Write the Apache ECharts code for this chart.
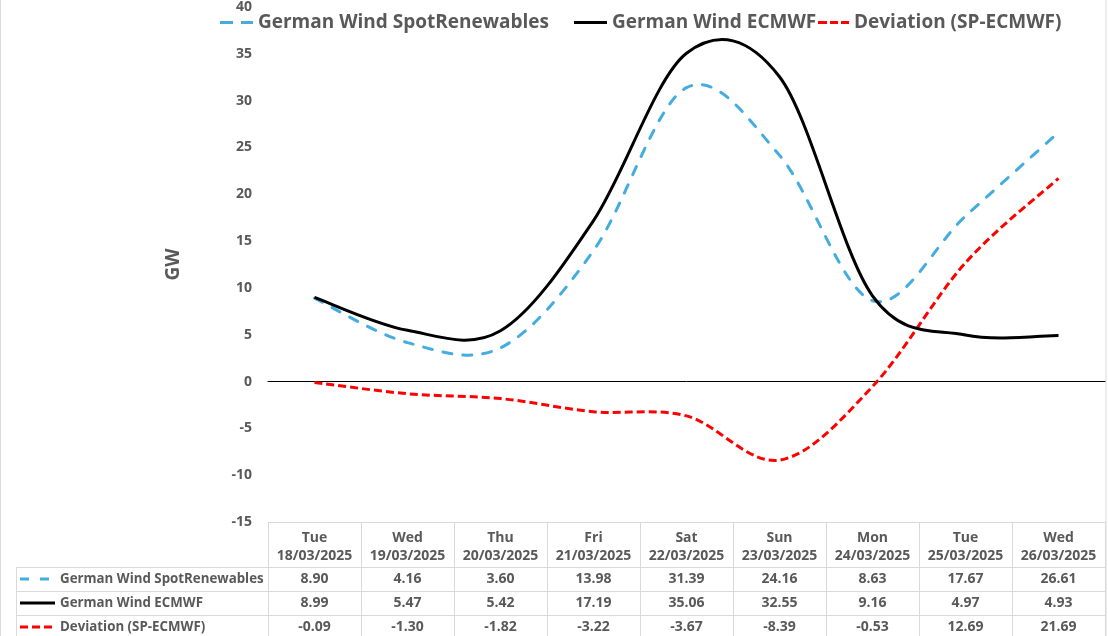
<!DOCTYPE html>
<html>
<head>
<meta charset="utf-8">
<script src="https://cdn.jsdelivr.net/npm/echarts@6/dist/echarts.min.js"></script>
<style>
html,body{margin:0;padding:0;background:#fff;}
#c{width:1108px;height:636px;}
</style>
</head>
<body>
<div id="c"></div>
<script>
// ---- data ----
const days = ['Tue','Wed','Thu','Fri','Sat','Sun','Mon','Tue','Wed'];
const dates = ['18/03/2025','19/03/2025','20/03/2025','21/03/2025','22/03/2025','23/03/2025','24/03/2025','25/03/2025','26/03/2025'];
const seriesNames = ['German Wind SpotRenewables','German Wind ECMWF','Deviation (SP-ECMWF)'];
const spotRenewables = [8.90,4.16,3.60,13.98,31.39,24.16,8.63,17.67,26.61];
const ecmwf = [8.99,5.47,5.42,17.19,35.06,32.55,9.16,4.97,4.93];
const deviation = [-0.09,-1.30,-1.82,-3.22,-3.67,-8.39,-0.53,12.69,21.69];
const yMin = -15, yMax = 40, yStep = 5;

const categories = days.map((d,i) => d + '\n' + dates[i]);
const seriesValues = [spotRenewables, ecmwf, deviation];
const lineStyles = [
  {color:'#45ACE0', width:3, dash:[9,11], cap:'round'},
  {color:'#000000', width:3, dash:null, cap:'butt'},
  {color:'#FF0000', width:3, dash:[8,4], cap:'butt'}
];
const legendIcons = [
  'path://M0,0h13v3h-13zM21,0h12v3h-12z',
  'path://M0,0h33v3h-33z',
  'path://M0,0h9v3h-9zM12,0h8v3h-8zM23,0h8v3h-8z'
];
const TXT = '#595959';
const FONT = 'Open Sans';
const BORDER = '#D9D9D9';

// Excel-style smoothed line (Catmull-Rom Bezier) through pixel points from the axes
function smoothPath(pts){
  let d = 'M' + pts[0][0] + ',' + pts[0][1];
  for (let i = 0; i < pts.length - 1; i++){
    const p0 = pts[i-1] || pts[i], p1 = pts[i], p2 = pts[i+1], p3 = pts[i+2] || pts[i+1];
    const c1x = p1[0] + (p2[0]-p0[0])/6, c1y = p1[1] + (p2[1]-p0[1])/6;
    const c2x = p2[0] - (p3[0]-p1[0])/6, c2y = p2[1] - (p3[1]-p1[1])/6;
    d += 'C' + c1x + ',' + c1y + ',' + c2x + ',' + c2y + ',' + p2[0] + ',' + p2[1];
  }
  return d;
}

const chart = echarts.init(document.getElementById('c'));

const legendLefts = [220, 574, 818];
const option = {
  backgroundColor:'#fff',
  animation:false,
  grid:{left:268, right:3, top:4, bottom:114},
  legend: seriesNames.map((n,i)=>({
    data:[n], left:legendLefts[i], top:13, padding:0,
    icon: legendIcons[i], itemWidth: i===2?31:33, itemHeight:3,
    textStyle:{color:TXT, fontFamily:FONT, fontWeight:'bold', fontSize:19}
  })),
  xAxis:[
    {type:'category', data:categories, boundaryGap:true,
     axisLine:{show:true, onZero:true, lineStyle:{color:'#000', width:1}},
     axisTick:{show:false}, axisLabel:{show:false}, splitLine:{show:false}},
    {type:'category', data:categories, boundaryGap:true, position:'bottom',
     axisLine:{show:false}, axisTick:{show:false},
     axisLabel:{show:true, margin:7, color:TXT, fontFamily:FONT, fontWeight:'bold', fontSize:14, lineHeight:18, interval:0},
     splitLine:{show:false}}
  ],
  yAxis:{type:'value', min:yMin, max:yMax, interval:yStep,
    name:'GW', nameLocation:'middle', nameGap:85, nameRotate:90,
    nameTextStyle:{color:TXT, fontFamily:FONT, fontWeight:'bold', fontSize:19},
    axisLine:{show:false}, axisTick:{show:false}, splitLine:{show:false},
    axisLabel:{margin:16, color:TXT, fontFamily:FONT, fontWeight:'bold', fontSize:14}},
  series: seriesNames.map((n,k)=>({
    name:n, type:'custom', xAxisIndex:0, yAxisIndex:0,
    data: seriesValues[k].map((v,i)=>[i, v]),
    encode:{x:0, y:1},
    itemStyle:{color:lineStyles[k].color},
    z: k===1?3:2,
    renderItem:(params, api)=>{
      if (params.dataIndex !== 0) return null;
      const pts = seriesValues[k].map((v,i)=>api.coord([i, v]));
      const ls = lineStyles[k];
      return {type:'path', shape:{pathData: smoothPath(pts)},
        style:{fill:'none', stroke:ls.color, lineWidth:ls.width, lineDash:ls.dash, lineCap:ls.cap, lineJoin:'round'}};
    }
  }))
};
chart.setOption(option);

// ---- data table built from arrays ----
const n = categories.length;
const x0 = chart.convertToPixel({xAxisIndex:0}, 0);
const x1 = chart.convertToPixel({xAxisIndex:0}, 1);
const band = x1 - x0;
const leftEdge = x0 - band/2;
const rightEdge = leftEdge + band*n;
const yBottomAxis = chart.convertToPixel({yAxisIndex:0}, yMin);
const tableLeft = 16;
const headerBottom = yBottomAxis + 45;
const rowH = 24;
const g = [];
const ln = (xa,ya,xb,yb)=>({type:'line', silent:true, shape:{x1:xa,y1:ya,x2:xb,y2:yb}, style:{stroke:BORDER, lineWidth:1}});
g.push(ln(leftEdge, yBottomAxis+0.5, rightEdge, yBottomAxis+0.5));
for (let r=0;r<=3;r++){
  const y = Math.round(headerBottom + r*rowH)+0.5;
  g.push(ln(tableLeft, y, rightEdge, y));
}
for (let c=0;c<=n;c++){
  const x = Math.round(leftEdge + c*band)+0.5;
  g.push(ln(x, yBottomAxis, x, 640));
}
g.push(ln(tableLeft+0.5, headerBottom, tableLeft+0.5, 640));
seriesNames.forEach((name,r)=>{
  const cy = headerBottom + r*rowH + rowH/2;
  const ls = lineStyles[r];
  g.push({type:'line', silent:true, shape:{x1:20, y1:cy, x2: r===1?55:53, y2:cy},
    style:{stroke:ls.color, lineWidth:ls.width, lineDash: ls.dash || null, lineCap:'butt'}});
  g.push({type:'text', silent:true, style:{x:60, y:cy, text:name, textAlign:'left', textVerticalAlign:'middle',
    fill:TXT, font:'bold 13.3px "'+FONT+'"'}});
  seriesValues[r].forEach((v,c)=>{
    g.push({type:'text', silent:true, style:{x:leftEdge + (c+0.5)*band, y:cy, text:v.toFixed(2),
      textAlign:'center', textVerticalAlign:'middle', fill:TXT, font:'bold 14px "'+FONT+'"'}});
  });
});
g.push({type:'rect', silent:true, shape:{x:0.5,y:-2,width:1105.5,height:645}, style:{fill:'none', stroke:BORDER, lineWidth:1}});
chart.setOption({graphic:g});
</script>
</body>
</html>
